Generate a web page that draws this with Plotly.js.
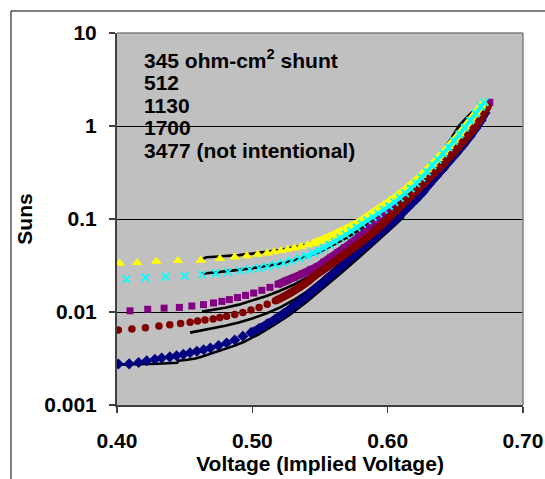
<!DOCTYPE html>
<html>
<head>
<meta charset="utf-8">
<script src="https://cdn.plot.ly/plotly-3.0.1.min.js"></script>
<style>
html,body{margin:0;padding:0;background:#fff;}
#chart{width:545px;height:479px;}
</style>
</head>
<body>
<div id="chart"></div>
<script>
// ---- Data ----
const seriesNames = ["345 ohm-cm<sup>2</sup> shunt", "512", "1130", "1700", "3477 (not intentional)"];

// 345 ohm-cm2 (yellow triangles)
const volt345 = [0.402,0.415,0.429,0.445,0.462,0.476,0.487,0.496,0.504,0.511,0.516,0.521,0.526,0.531,0.536,0.541,0.545,0.549,0.553,0.557,0.561,0.565,0.569,0.573,0.577,0.581,0.585,0.589,0.593,0.597,0.601,0.605,0.609,0.613,0.617,0.621,0.625,0.629,0.633,0.637,0.641,0.645,0.649,0.653,0.657,0.661,0.665,0.669,0.671];
const suns345 = [0.0334,0.0339,0.0350,0.0356,0.0360,0.0375,0.0390,0.0401,0.0416,0.0430,0.0443,0.0456,0.0471,0.0487,0.0506,0.0527,0.0550,0.0578,0.0610,0.0645,0.0685,0.073,0.078,0.0835,0.0895,0.097,0.106,0.117,0.128,0.140,0.153,0.168,0.186,0.207,0.232,0.260,0.295,0.337,0.387,0.445,0.515,0.60,0.70,0.82,0.97,1.15,1.37,1.64,1.76];

// 512 (cyan crosses)
const volt512 = [0.407,0.421,0.436,0.450,0.463,0.473,0.482,0.491,0.498,0.505,0.511,0.517,0.523,0.529,0.535,0.540,0.545,0.549,0.553,0.557,0.561,0.565,0.569,0.573,0.577,0.581,0.585,0.589,0.593,0.597,0.601,0.605,0.609,0.613,0.617,0.621,0.625,0.629,0.633,0.637,0.641,0.645,0.649,0.653,0.657,0.661,0.665,0.669,0.6715];
const suns512 = [0.0226,0.0234,0.0240,0.0244,0.0252,0.0261,0.0269,0.0278,0.0287,0.0297,0.0308,0.0321,0.0337,0.0355,0.0378,0.0400,0.0430,0.0458,0.0492,0.053,0.0575,0.0625,0.068,0.0742,0.081,0.0885,0.0965,0.105,0.115,0.126,0.138,0.152,0.169,0.189,0.213,0.242,0.279,0.324,0.376,0.436,0.507,0.590,0.69,0.81,0.96,1.14,1.36,1.62,1.80];

// 1130 (purple squares)
const volt1130 = [0.4096,0.4227,0.4348,0.4461,0.4553,0.4639,0.4713,0.4775,0.483,0.489,0.495,0.501,0.507,0.513,0.519,0.525,0.531,0.537,0.543,0.548,0.553,0.558,0.563,0.568,0.573,0.578,0.583,0.588,0.593,0.598,0.603,0.608,0.613,0.618,0.623,0.628,0.633,0.638,0.643,0.648,0.653,0.658,0.663,0.667,0.671,0.6755];
const suns1130 = [0.0103,0.0107,0.0110,0.0112,0.0116,0.0120,0.0125,0.0130,0.0136,0.0143,0.0151,0.0160,0.0171,0.0184,0.0199,0.0217,0.0236,0.0258,0.0284,0.0307,0.0345,0.0387,0.0435,0.0490,0.0553,0.0630,0.0725,0.0835,0.096,0.110,0.127,0.147,0.170,0.197,0.230,0.270,0.318,0.375,0.445,0.53,0.635,0.77,0.95,1.15,1.42,1.80];

// 1700 (dark red circles)
const volt1700 = [0.401,0.411,0.421,0.431,0.439,0.447,0.454,0.4595,0.465,0.471,0.476,0.481,0.487,0.493,0.499,0.505,0.511,0.517,0.523,0.529,0.535,0.541,0.546,0.551,0.556,0.561,0.566,0.571,0.576,0.581,0.586,0.591,0.596,0.600,0.606,0.611,0.616,0.621,0.626,0.631,0.636,0.641,0.646,0.651,0.656,0.661,0.665,0.669,0.6725,0.674];
const suns1700 = [0.0064,0.00656,0.00678,0.00705,0.00728,0.00750,0.00778,0.0080,0.0082,0.0084,0.0087,0.0090,0.0094,0.0099,0.0105,0.0112,0.0121,0.0132,0.0146,0.0163,0.0185,0.0213,0.0245,0.0275,0.031,0.035,0.0395,0.0445,0.0505,0.0575,0.0655,0.0752,0.087,0.100,0.123,0.145,0.170,0.200,0.236,0.280,0.330,0.390,0.470,0.565,0.685,0.84,1.00,1.22,1.50,1.62];

// 3477 (navy diamonds)
const volt3477 = [0.401,0.409,0.416,0.422,0.428,0.433,0.439,0.444,0.449,0.454,0.459,0.464,0.469,0.475,0.481,0.487,0.493,0.499,0.505,0.511,0.517,0.523,0.529,0.535,0.541,0.547,0.553,0.559,0.565,0.571,0.577,0.583,0.589,0.595,0.601,0.606,0.611,0.616,0.621,0.626,0.631,0.636,0.641,0.646,0.651,0.656,0.661,0.665,0.669,0.672];
const suns3477 = [0.00276,0.00277,0.00286,0.00299,0.00311,0.00320,0.00329,0.00338,0.00350,0.00364,0.00378,0.00393,0.00410,0.00435,0.00465,0.00500,0.00548,0.00600,0.00665,0.00745,0.0084,0.0096,0.0111,0.0129,0.0152,0.0180,0.0213,0.0252,0.0300,0.0357,0.0425,0.0505,0.060,0.0715,0.0855,0.0995,0.117,0.138,0.163,0.195,0.240,0.290,0.350,0.425,0.515,0.63,0.78,0.94,1.15,1.38];

// Black measured curves
const lineVolt345 = [0.4615,0.466,0.472,0.480,0.490,0.500,0.510,0.520,0.530,0.540,0.550,0.560,0.570,0.580,0.590,0.600,0.610,0.620,0.630,0.640,0.646,0.6526,0.6575,0.6627];
const lineSuns345 = [0.0362,0.0388,0.0392,0.0398,0.0409,0.0424,0.0442,0.0465,0.0492,0.0528,0.0585,0.0675,0.078,0.0965,0.120,0.152,0.195,0.260,0.360,0.530,0.700,1.00,1.20,1.42];
const lineVolt512 = [0.4627,0.470,0.480,0.490,0.500,0.510,0.520,0.530,0.540,0.550,0.560,0.570,0.580,0.590,0.600,0.610,0.620,0.630,0.640,0.646,0.6526,0.6575,0.662];
const lineSuns512 = [0.0258,0.0264,0.0274,0.0284,0.0296,0.0311,0.0331,0.0357,0.0392,0.0445,0.0525,0.063,0.078,0.098,0.126,0.168,0.235,0.340,0.510,0.680,0.97,1.18,1.38];
const lineVolt1130 = [0.4627,0.470,0.480,0.490,0.500,0.510,0.520,0.530,0.540,0.550,0.560,0.570,0.580,0.590,0.600,0.610,0.620];
const lineSuns1130 = [0.0101,0.0105,0.0111,0.0120,0.0132,0.0148,0.0168,0.0195,0.0232,0.0280,0.0345,0.0440,0.058,0.077,0.102,0.140,0.190];
const lineVolt1700 = [0.454,0.462,0.470,0.480,0.490,0.500,0.510,0.520,0.530,0.540,0.550,0.560,0.570,0.580,0.590,0.600,0.608];
const lineSuns1700 = [0.0060,0.0063,0.0066,0.0071,0.0077,0.0085,0.0096,0.0111,0.0133,0.0165,0.0215,0.0290,0.039,0.052,0.068,0.090,0.112];
const lineVolt3477 = [0.400,0.415,0.430,0.4445,0.4455,0.452,0.458,0.463,0.469,0.478,0.487,0.4936,0.505,0.5158,0.527,0.540,0.552,0.565,0.580,0.595,0.605,0.612];
const lineSuns3477 = [0.00271,0.00273,0.00278,0.00284,0.00300,0.00306,0.00316,0.00332,0.00355,0.00390,0.00435,0.00475,0.0058,0.0072,0.0092,0.0128,0.0178,0.0258,0.040,0.062,0.085,0.106];

const xTickVals = [0.4, 0.5, 0.6, 0.7];
const xTickText = ["0.40", "0.50", "0.60", "0.70"];
const yTickVals = [0.001, 0.01, 0.1, 1, 10];
const yTickText = ["0.001", "0.01", "0.1", "1", "10"];

// ---- Styling (voltage from which markers merge into a continuous band) ----
const bandFrom = [0.545, 0.540, 0.515, 0.515, 0.495];

function bandTrace(x, y, from, color, width) {
  const bx = [], by = [];
  x.forEach((v, i) => { if (v >= from) { bx.push(v); by.push(y[i]); } });
  return {x: bx, y: by, type: 'scatter', mode: 'lines', showlegend: false, hoverinfo: 'skip',
    line: {color: color, width: width, shape: 'spline', smoothing: 0.6}};
}
function markerTrace(x, y, name, symbol, color, size, lineW) {
  return {x: x, y: y, name: name, type: 'scatter', mode: 'markers', showlegend: false,
    marker: {symbol: symbol, color: color, size: size, line: {color: color, width: lineW}}};
}
function lineTrace(x, y) {
  return {x: x, y: y, type: 'scatter', mode: 'lines', showlegend: false,
    line: {color: '#000000', width: 2.6}, hoverinfo: 'skip'};
}
const traces = [
  lineTrace(lineVolt3477, lineSuns3477),
  lineTrace(lineVolt1700, lineSuns1700),
  lineTrace(lineVolt1130, lineSuns1130),
  lineTrace(lineVolt512, lineSuns512),
  lineTrace(lineVolt345, lineSuns345),
  bandTrace(volt3477, suns3477, bandFrom[4], '#000080', 8),
  markerTrace(volt3477, suns3477, seriesNames[4], 'diamond', '#000080', 8.5, 0),
  bandTrace(volt1130, suns1130, bandFrom[2], '#800080', 8),
  markerTrace(volt1130, suns1130, seriesNames[2], 'square', '#800080', 7, 0),
  bandTrace(volt1700, suns1700, bandFrom[3], '#800000', 8),
  markerTrace(volt1700, suns1700, seriesNames[3], 'circle', '#800000', 7.5, 0),
  bandTrace(volt345, suns345, bandFrom[0], '#FFFF00', 7.5),
  markerTrace(volt345, suns345, seriesNames[0], 'triangle-up', '#FFFF00', 9.5, 0),
  bandTrace(volt512, suns512, bandFrom[1], '#00FFFF', 4),
  markerTrace(volt512, suns512, seriesNames[1], 'x-thin-open', '#00FFFF', 7.5, 1.8)
];

const font = {family: 'Liberation Sans, Arial, sans-serif', size: 21, color: '#000000', weight: 'bold'};
const legendY = [0.930, 0.866, 0.806, 0.745, 0.683];
const annotations = seriesNames.map((t, i) => ({
  xref: 'paper', yref: 'paper', x: 0.061, y: legendY[i], xanchor: 'left', yanchor: 'middle',
  text: t, showarrow: false, font: font
}));

const layout = {
  width: 545, height: 479,
  margin: {l: 117, r: 22, t: 33, b: 74, pad: 0},
  paper_bgcolor: '#ffffff', plot_bgcolor: '#C0C0C0',
  font: font,
  showlegend: false,
  xaxis: {
    range: [0.4, 0.7], tickvals: xTickVals, ticktext: xTickText,
    showgrid: false, zeroline: false,
    showline: true, linecolor: '#404040', linewidth: 1.5,
    ticks: 'outside', ticklen: 6, tickwidth: 1.5, tickcolor: '#404040',
    ticklabelstandoff: 10, tickfont: font,
    title: {text: 'Voltage (Implied Voltage)', font: font, standoff: 5}
  },
  yaxis: {
    type: 'log', range: [-3, 1], tickvals: yTickVals, ticktext: yTickText,
    showgrid: true, gridcolor: '#000000', gridwidth: 1, zeroline: false,
    showline: true, linecolor: '#404040', linewidth: 2,
    ticks: 'outside', ticklen: 6, tickwidth: 1.5, tickcolor: '#404040',
    ticklabelstandoff: 8, tickfont: font,
    title: {text: 'Suns', font: font, standoff: 6}
  },
  annotations: annotations,
  shapes: [
    {type: 'line', xref: 'paper', yref: 'paper', x0: 0, x1: 1, y0: 1, y1: 1, line: {color: '#808080', width: 1.5}},
    {type: 'line', xref: 'paper', yref: 'paper', x0: 1, x1: 1, y0: 0, y1: 1, line: {color: '#808080', width: 1.5}},
    {type: 'rect', xref: 'paper', yref: 'paper', x0: -0.2611, x1: 1.2, y0: -0.5, y1: 1.0591, line: {color: '#000000', width: 1}, layer: 'below'}
  ]
};

Plotly.newPlot('chart', traces, layout, {staticPlot: true, displayModeBar: false});
</script>
</body>
</html>
